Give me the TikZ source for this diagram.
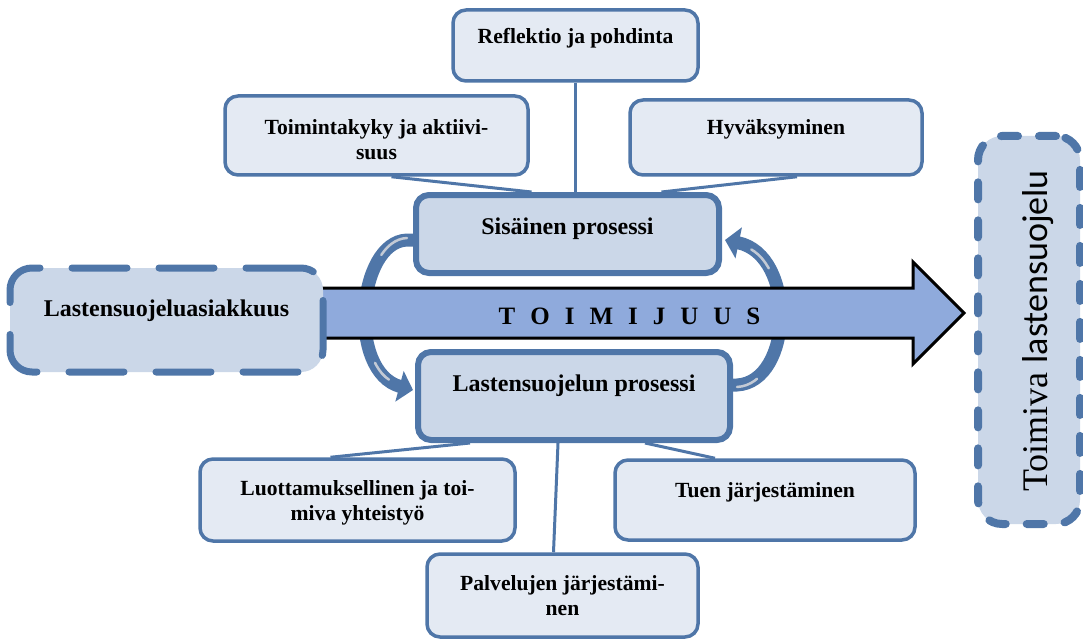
\documentclass[tikz,border=0pt]{standalone}
\usepackage{fontspec}
\setmainfont{Liberation Serif}
\newfontfamily\calfont{Carlito}
\usetikzlibrary{calc,arrows.meta}
\pgfdeclarelayer{bg}
\pgfdeclarelayer{mid}
\pgfsetlayers{bg,mid,main}
\definecolor{bcol}{HTML}{4F76A8}
\definecolor{lfill}{HTML}{E4EAF3}
\definecolor{mfill}{HTML}{CBD7E8}
\definecolor{afill}{HTML}{8FAADC}
\definecolor{hl}{HTML}{C3CAD5}
\begin{document}
\begin{tikzpicture}[x=1pt,y=-1pt,
 obox/.style={draw=bcol, fill=lfill, line width=3.5pt, rounded corners=13pt, inner sep=0pt},
 cbox/.style={draw=bcol, fill=mfill, line width=6pt, rounded corners=13pt, inner sep=0pt},
 lbox/.style={draw=bcol, fill=mfill, line width=7pt, rounded corners=22pt, inner sep=0pt, line cap=round, dash pattern=on 55pt off 32pt},
 rbox/.style={draw=bcol, fill=mfill, line width=8pt, rounded corners=24pt, inner sep=0pt, line cap=round, dash pattern=on 17pt off 21pt},
 otxt/.style={font=\bfseries\fontsize{21.6}{25}\selectfont, align=center, inner sep=0pt},
 ctxt/.style={font=\bfseries\fontsize{24}{28}\selectfont, align=center, inner sep=0pt},
 link/.style={draw=bcol, line width=3pt},
 cyc/.style={draw=bcol, line width=13pt, -{Triangle[length=14pt,width=31pt]}},
 hline/.style={draw=hl, line width=2.5pt, line cap=round},
]
\useasboundingbox (0,0) rectangle (1083,639);

% boxes
\node[obox, minimum width=245pt, minimum height=71pt] (refl) at (575.5,45.5) {};
\node[otxt] (refl-t) at (575.5,38) {Reflektio ja pohdinta};
\node[obox, minimum width=303pt, minimum height=79pt] (toim) at (376.5,135.5) {};
\node[otxt] (toim-t) at (376.5,139.5) {Toimintakyky ja aktiivi-\\suus};
\node[obox, minimum width=292pt, minimum height=75pt] (hyv) at (776,137.5) {};
\node[otxt] (hyv-t) at (776,129) {Hyväksyminen};
\node[cbox, minimum width=303pt, minimum height=78pt] (sis) at (567.5,234) {};
\node[ctxt] (sis-t) at (567.5,229) {Sisäinen prosessi};
\node[cbox, minimum width=312pt, minimum height=88pt] (lsp) at (574,396) {};
\node[ctxt] (lsp-t) at (574,386) {Lastensuojelun prosessi};
\node[obox, minimum width=315pt, minimum height=82pt] (luot) at (357.5,500) {};
\node[otxt] (luot-t) at (357.5,502.5) {Luottamuksellinen ja toi-\\miva yhteistyö};
\node[obox, minimum width=300pt, minimum height=80pt] (tuen) at (765,500) {};
\node[otxt] (tuen-t) at (765,492) {Tuen järjestäminen};
\node[obox, minimum width=271pt, minimum height=83pt] (palv) at (562.5,595.5) {};
\node[otxt] (palv-t) at (562.5,595.5) {Palvelujen järjestämi-\\nen};
\node[lbox, minimum width=313pt, minimum height=104pt] (lsa) at (166.5,320) {};
\node[ctxt] (lsa-t) at (166.5,311) {Lastensuojeluasiakkuus};
\node[rbox, minimum width=102pt, minimum height=388pt] (tlsu) at (1029,330) {};
\node[rotate=90, inner sep=0pt, font=\fontsize{36}{40}\selectfont] (tlsu-t) at (1038,331) {Toimiva {\calfont lastensuojelu}};

% big arrow
\begin{pgfonlayer}{mid}
\draw[fill=afill, line width=3pt, line join=miter] ($(lsa.east)+(-20,-32)$) -- (913,288) -- (913,262) -- (964,313) -- (913,364) -- (913,338) -- ($(lsa.east)+(-20,18)$) -- cycle;
\end{pgfonlayer}
\node[font=\bfseries\fontsize{25}{30}\selectfont, inner sep=0pt] (toimijuus) at (629.5,316)
 {T\kern15pt O\kern15pt I\kern15pt M\kern15pt I\kern15pt J\kern15pt U\kern15pt U\kern15pt S};

% connectors and cycle arrows
\begin{pgfonlayer}{bg}
\draw[link] (refl.south) -- (refl.south |- sis.north);
\draw[link] ($(toim.south)+(15,0)$) -- ($(sis.north)+(-36,0)$);
\draw[link] ($(hyv.south)+(21,0)$) -- ($(sis.north)+(94,0)$);
\draw[link] ($(luot.north)+(-27,0)$) -- ($(lsp.south)+(-104,0)$);
\draw[link] ($(palv.north)+(-9,0)$) -- ($(lsp.south)+(-16,0)$);
\draw[link] ($(tuen.north)+(-50,0)$) -- ($(lsp.south)+(71,0)$);

\draw[cyc] ($(sis.west)+(12,6)$) -- ($(sis.west)+(-6,6)$)
  .. controls ($(sis.west)+(-56,8)$) and ($(lsp.west)+(-68,-24)$) .. ($(lsp.west)+(-2,-6)$);
\draw[hline, dash pattern=on 32pt off 112pt on 22pt off 1000pt, shorten >=16pt]
  ($(sis.west)+(-6,4)$)
  .. controls ($(sis.west)+(-54,6)$) and ($(lsp.west)+(-66,-26)$) .. ($(lsp.west)+(-2,-8)$);

\draw[cyc] ($(lsp.east)+(-12,-11)$) -- ($(lsp.east)+(4,-11)$)
  .. controls ($(lsp.east)+(60,-14)$) and ($(sis.east)+(75,21)$) .. ($(sis.east)+(3,6)$);
\draw[hline, dash pattern=on 22pt off 118pt on 26pt off 1000pt, shorten >=16pt]
  ($(lsp.east)+(4,-9)$)
  .. controls ($(lsp.east)+(58,-12)$) and ($(sis.east)+(73,23)$) .. ($(sis.east)+(3,8)$);
\end{pgfonlayer}
\end{tikzpicture}
\end{document}
